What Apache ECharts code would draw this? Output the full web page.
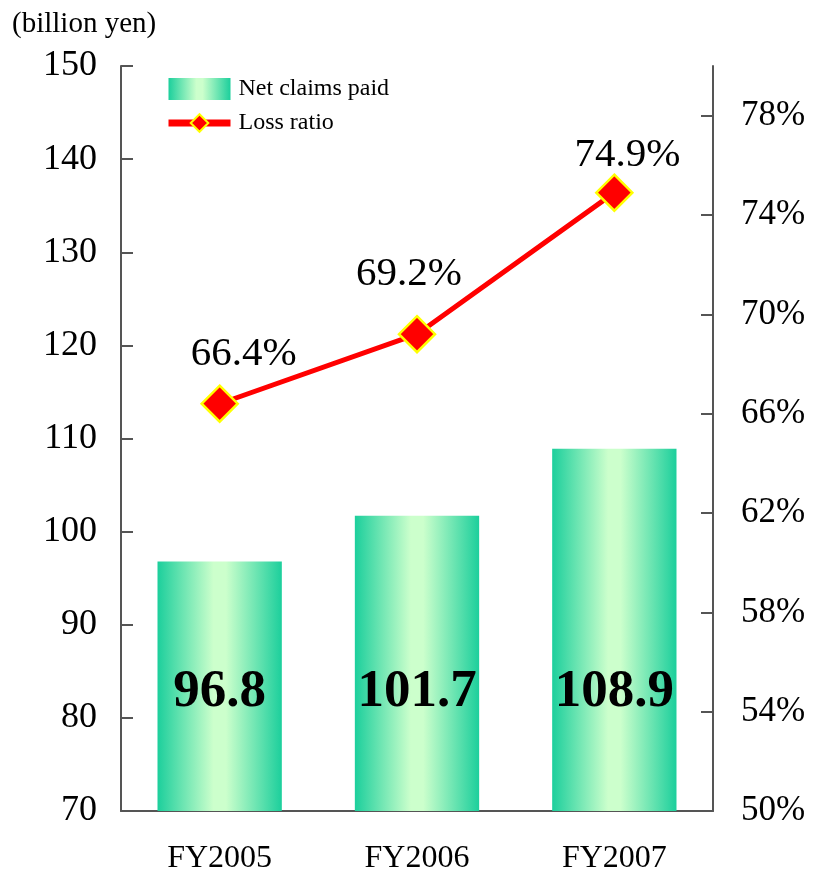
<!DOCTYPE html>
<html>
<head>
<meta charset="utf-8">
<script src="https://cdn.jsdelivr.net/npm/echarts@6/dist/echarts.min.js"></script>
<style>
  html, body { margin: 0; padding: 0; background: #fff; }
  #chart { width: 814px; height: 875px; }
</style>
</head>
<body>
<div id="chart"></div>
<script>
// Fiscal years and values
const categories = ['FY2005', 'FY2006', 'FY2007'];
const netClaimsPaid = [96.8, 101.7, 108.9];   // billion yen
const lossRatio = [66.4, 69.2, 74.9];         // %
const leftTicks = [70, 80, 90, 100, 110, 120, 130, 140, 150];
const rightTicks = [50, 54, 58, 62, 66, 70, 74, 78];

// per-point label nudges for the loss ratio labels
const ratioLabelOffsets = [[24, 0], [-8, -10], [13, 12]];

const serif = '"Liberation Serif", "Times New Roman", serif';
const axisColor = '#555';

const chart = echarts.init(document.getElementById('chart'));

const barGradient = new echarts.graphic.LinearGradient(0, 0, 1, 0, [
  { offset: 0, color: '#1ccf9c' },
  { offset: 0.45, color: '#ccffcc' },
  { offset: 0.55, color: '#ccffcc' },
  { offset: 1, color: '#1ccf9c' }
]);

chart.setOption({
  animation: false,
  textStyle: { fontFamily: serif },
  grid: { left: 121, right: 101, top: 66, bottom: 63 },
  legend: {
    left: 160, top: 72, orient: 'vertical', itemGap: 10,
    itemWidth: 62, itemHeight: 22,
    textStyle: { fontFamily: serif, fontSize: 24, color: '#000', padding: [0, 0, 0, 3] },
    data: [
      { name: 'Net claims paid', icon: 'rect' },
      { name: 'Loss ratio', lineStyle: { width: 7 } }
    ]
  },
  graphic: [{
    type: 'text', left: 12, top: 10,
    style: { text: '(billion yen)', font: '29px ' + serif, fill: '#000' }
  }],
  xAxis: {
    type: 'category', data: categories,
    axisLine: { lineStyle: { color: axisColor, width: 2 } },
    axisTick: { inside: true, length: 10, lineStyle: { color: axisColor, width: 2 } },
    axisLabel: { fontSize: 32, color: '#000', margin: 32, fontFamily: serif }
  },
  yAxis: [{
    type: 'value', min: 70, max: 150, interval: 10,
    axisLine: { show: true, lineStyle: { color: axisColor, width: 2 } },
    axisTick: { show: true, inside: true, length: 12, lineStyle: { color: axisColor, width: 2 } },
    splitLine: { show: false },
    axisLabel: { fontSize: 36, color: '#000', margin: 24, fontFamily: serif }
  }, {
    type: 'value', min: 50, max: 80, interval: 4, position: 'right',
    axisLine: { show: true, lineStyle: { color: axisColor, width: 2 } },
    axisTick: { show: true, inside: true, length: 12, lineStyle: { color: axisColor, width: 2 } },
    splitLine: { show: false },
    axisLabel: {
      fontSize: 35, color: '#000', margin: 28, fontFamily: serif,
      showMaxLabel: false, formatter: v => v + '%'
    }
  }],
  series: [{
    name: 'Net claims paid', type: 'bar', yAxisIndex: 0,
    data: netClaimsPaid, barWidth: '63%',
    itemStyle: { color: barGradient },
    label: {
      show: true, position: 'insideBottom', distance: 92,
      fontSize: 53, fontWeight: 'bold', color: '#000', fontFamily: serif,
      formatter: p => p.value.toFixed(1)
    }
  }, {
    name: 'Loss ratio', type: 'line', yAxisIndex: 1,
    data: lossRatio.map((v, i) => ({
      value: v,
      label: { offset: ratioLabelOffsets[i] }
    })),
    symbol: 'diamond', symbolSize: 36,
    lineStyle: { color: '#ff0000', width: 5 },
    itemStyle: { color: '#ff0000', borderColor: '#ffff00', borderWidth: 2.5 },
    label: {
      show: true, position: 'top', distance: 10,
      fontSize: 41, color: '#000', fontFamily: serif,
      formatter: p => p.value.toFixed(1) + '%'
    },
    z: 5
  }]
});
</script>
</body>
</html>
